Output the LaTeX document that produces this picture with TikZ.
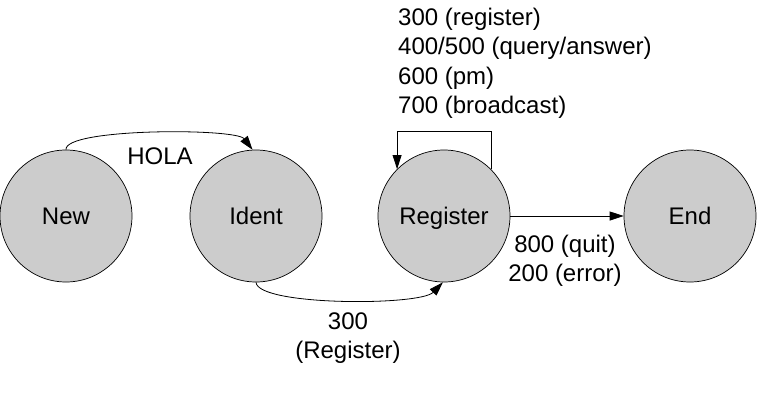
\documentclass[tikz,border=0pt]{standalone}
\usepackage{fontspec}
\setmainfont{Liberation Sans}
\usetikzlibrary{arrows.meta}
\definecolor{statefill}{RGB}{204,204,204}
\begin{document}
\begin{tikzpicture}[x=1pt,y=-1pt,
  state/.style={circle,draw,fill=statefill,minimum size=132pt,inner sep=0pt,line width=0.7pt,font=\fontsize{24}{29}\selectfont,text height=22pt,text depth=5pt},
  lbl/.style={font=\fontsize{24}{29.3}\selectfont,inner sep=0pt},
  conn/.style={line width=0.8pt,-{Triangle[length=14pt,width=9pt]}}]
\useasboundingbox (0,0) rectangle (758,400);
\node[state] (new) at (66,216) {New};
\node[state] (ident) at (256,216) {Ident};
\node[state] (reg) at (444,216) {Register};
\node[state] (end) at (690,216) {End};
% HOLA
\draw[conn] (new.north) .. controls (64,128) and (236,128) .. (ident.93);
\node[lbl] (hola) at (160,156) {HOLA};
% Ident -> Register
\draw[conn] (ident.south) .. controls (258,306) and (420,306) .. (reg.-91);
\node[lbl,align=center] (l300) at (348,338) {300\\(Register)};
% self loop
\draw[conn] (reg.45) -- ++(0,-38) -| (reg.135);
\node[lbl,align=left,anchor=north west] (loop) at (398,8) {300 (register)\\400/500 (query/answer)\\600 (pm)\\700 (broadcast)};
% Register -> End
\draw[conn] (reg.east) -- (end.west);
\node[lbl,align=center] (l800) at (565,261) {800 (quit)\\200 (error)};
\end{tikzpicture}
\end{document}
